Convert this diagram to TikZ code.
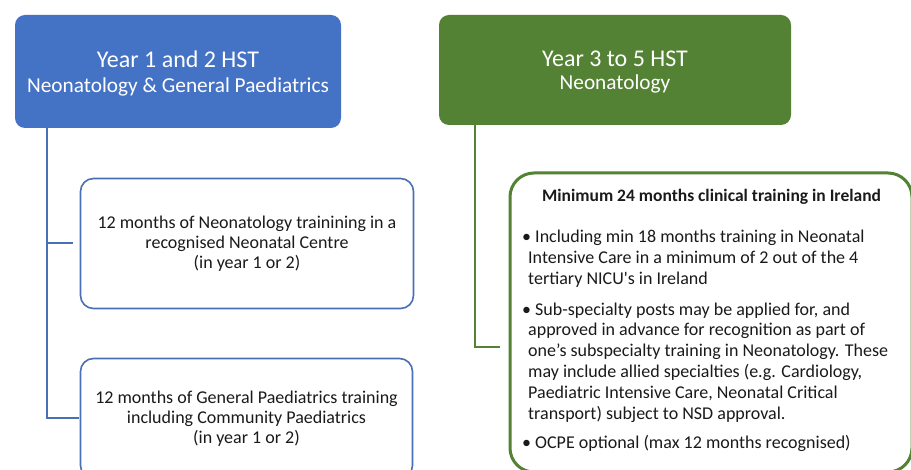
\documentclass[tikz,border=0pt]{standalone}
\usepackage{fontspec}
\setmainfont{Carlito}
\newfontfamily\qfont[Ligatures=TeXOff]{Carlito}
\definecolor{hblue}{HTML}{4472C4}
\definecolor{hgreen}{HTML}{548235}
\definecolor{lblue}{HTML}{4A6FB5}
\definecolor{txt}{HTML}{1A1A1A}
\begin{document}
\begin{tikzpicture}[x=1pt,y=-1pt,
  headbox/.style={rectangle, rounded corners=10pt, inner sep=0pt},
  headtext/.style={text=white, align=center, inner sep=0pt, font=\fontsize{24}{24}\selectfont},
  whitebox/.style={rectangle, rounded corners=13pt, draw=lblue, line width=1.6pt, fill=white, align=center, text=txt, font=\fontsize{18}{20}\selectfont, inner sep=0pt},
  bluelink/.style={draw=lblue, line width=2pt},
  greenlink/.style={draw=hgreen, line width=2.4pt}]
\useasboundingbox (0,0) rectangle (911,470);
\clip (0,0) rectangle (911,470);
\fill[white] (0,0) rectangle (911,470);
% header boxes
\node[headbox, fill=hblue, minimum width=326pt, minimum height=113pt] (b1) at (178,71.5) {};
\node[headtext] (b1t) at ([yshift=-2.5pt]b1.center)
  {Year 1 and 2 HST\\[1pt]{\fontsize{21.3}{24}\selectfont Neonatology \& General Paediatrics}};
\node[headbox, fill=hgreen, minimum width=352pt, minimum height=110pt] (g1) at (615,70) {};
\node[headtext] (g1t) at ([yshift=-2.5pt]g1.center)
  {Year 3 to 5 HST\\[-1pt]{\fontsize{21.3}{24}\selectfont Neonatology}};
% left boxes
\node[whitebox, minimum width=333pt, minimum height=130pt] (w1) at (247,243.5)
  {12 months of Neonatology trainining in a\\recognised Neonatal Centre\\(in year 1 or 2)};
\node[whitebox, minimum width=332pt, minimum height=120pt] (w2) at (246.5,418.5)
  {12 months of General Paediatrics training\\including Community Paediatrics\\(in year 1 or 2)};
% right box
\node[rectangle, rounded corners=24pt, draw=hgreen, line width=3pt, fill=white,
  minimum width=402pt, minimum height=299pt, inner sep=0pt] (r1) at (711,322.5) {};
\node[font=\bfseries\fontsize{17.5}{20}\selectfont, text=txt, inner sep=0pt] (rt) at (711.5,197) {Minimum 24 months clinical training in Ireland};
\node[anchor=north west, text=txt, align=left, inner sep=0pt,
  font=\fontsize{18}{20.8}\selectfont] (rb) at (522,230)
  {• Including min 18 months training in Neonatal\\
   \hspace{6pt}Intensive Care in a minimum of 2 out of the 4\\
   \hspace{6pt}tertiary NICU{\qfont '}s in Ireland\\[10pt]
   • Sub-specialty posts may be applied for, and\\
   \hspace{6pt}approved in advance for recognition as part of\\
   \hspace{6pt}one’s subspecialty training in Neonatology. These\\
   \hspace{6pt}may include allied specialties (e.g. Cardiology,\\
   \hspace{6pt}Paediatric Intensive Care, Neonatal Critical\\
   \hspace{6pt}transport) subject to NSD approval.\\[9pt]
   • OCPE optional (max 12 months recognised)};
% connectors
\draw[bluelink] ([xshift=32.5pt]b1.south west) |- ([xshift=-1pt]w2.west);
\draw[bluelink, shorten >=7pt] ([xshift=32.5pt]b1.south west |- w1.west) -- (w1.west);
\draw[greenlink, shorten >=9pt] ([xshift=36pt]g1.south west) |- ([yshift=-24.5pt]r1.west);
\end{tikzpicture}
\end{document}
